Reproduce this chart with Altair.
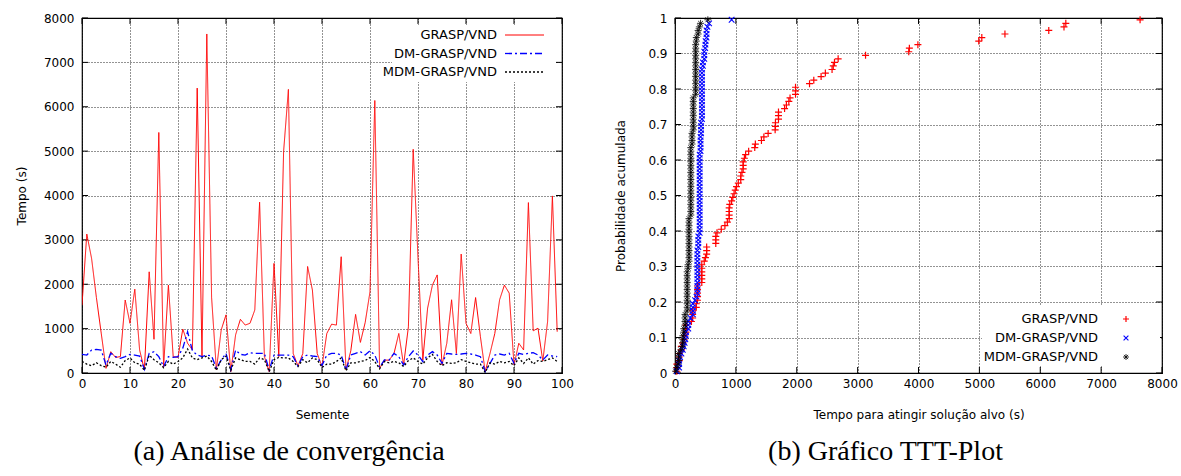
import altair as alt
import pandas as pd

# ---------------- data ----------------
seeds = list(range(100))

grasp_vnd = [1530, 3130, 2580, 1700, 900, 105, 480, 350, 370, 1645,
             1120, 1890, 520, 70, 2280, 760, 5420, 130, 1980, 370,
             350, 990, 670, 520, 6420, 370, 7640, 1700, 70, 970,
             1310, 30, 860, 1210, 1080, 1120, 1420, 3850, 370, 30,
             2470, 370, 4990, 6390, 440, 160, 440, 2400, 1870, 440,
             150, 890, 1100, 1080, 2620, 70, 500, 1320, 690, 1140,
             1830, 6140, 105, 290, 290, 440, 890, 180, 1040, 5040,
             2600, 290, 1460, 1980, 2210, 180, 670, 1650, 440, 2680,
             1120, 890, 1700, 820, 30, 440, 890, 1650, 1980, 1800,
             180, 670, 520, 3840, 950, 1010, 270, 1160, 3990, 930]

dm_grasp_vnd = [420, 405, 518, 533, 518, 180, 443, 368, 330, 368,
                420, 405, 383, 83, 443, 481, 368, 143, 368, 353,
                368, 560, 930, 500, 405, 368, 405, 383, 105, 293,
                443, 68, 518, 420, 405, 458, 443, 443, 443, 68,
                405, 405, 405, 405, 368, 158, 368, 405, 383, 368,
                170, 405, 443, 443, 405, 68, 405, 443, 481, 405,
                503, 405, 128, 293, 293, 443, 368, 180, 368, 496,
                405, 255, 405, 481, 405, 218, 443, 428, 420, 428,
                443, 428, 405, 368, 30, 218, 405, 428, 405, 443,
                218, 443, 420, 443, 458, 405, 293, 405, 383, 368]

mdm_grasp_vnd = [260, 200, 165, 230, 165, 130, 260, 200, 130, 280,
                 340, 230, 200, 60, 400, 300, 230, 120, 260, 200,
                 260, 340, 540, 340, 300, 340, 380, 260, 60, 300,
                 380, 60, 340, 300, 260, 260, 200, 340, 300, 30,
                 300, 350, 340, 340, 260, 145, 300, 230, 340, 300,
                 125, 200, 200, 260, 340, 50, 230, 230, 260, 280,
                 350, 260, 95, 260, 230, 260, 230, 145, 280, 340,
                 260, 200, 340, 420, 260, 165, 230, 215, 230, 300,
                 260, 230, 200, 200, 10, 230, 200, 260, 230, 260,
                 165, 340, 215, 340, 200, 280, 260, 300, 340, 260]

series = ["GRASP/VND", "DM-GRASP/VND", "MDM-GRASP/VND"]
colors = ["#ff0000", "#0000ff", "#000000"]
dashes = [[1, 0], [7, 3, 2, 3], [2, 2]]
shapes = ["M-1,0L1,0M0,-1L0,1",
          "M-0.8,-0.8L0.8,0.8M-0.8,0.8L0.8,-0.8",
          "M-1,0L1,0M0,-1L0,1M-0.7,-0.7L0.7,0.7M-0.7,0.7L0.7,-0.7"]
stroke_w = [1.2, 1.1, 0.8]

conv_x_ticks = [0, 10, 20, 30, 40, 50, 60, 70, 80, 90, 100]
conv_y_ticks = [0, 1000, 2000, 3000, 4000, 5000, 6000, 7000, 8000]
ttt_x_ticks = [0, 1000, 2000, 3000, 4000, 5000, 6000, 7000, 8000]
ttt_y_ticks = [0, 0.1, 0.2, 0.3, 0.4, 0.5, 0.6, 0.7, 0.8, 0.9, 1.0]

captions = ["(a) Análise de convergência", "(b) Gráfico TTT-Plot"]
axis_titles = ["Semente", "Tempo (s)", "Tempo para atingir solução alvo (s)", "Probabilidade acumulada"]

all_values = [grasp_vnd, dm_grasp_vnd, mdm_grasp_vnd]

# ---------------- tables ----------------
conv_df = pd.DataFrame({
    "Semente": seeds * 3,
    "Tempo": grasp_vnd + dm_grasp_vnd + mdm_grasp_vnd,
    "Algoritmo": sum([[s] * len(seeds) for s in series], []),
})

ttt_rows = []
for name, vals in zip(series, all_values):
    sv = sorted(vals)
    n = len(sv)
    for i, v in enumerate(sv):
        ttt_rows.append({"Algoritmo": name, "Tempo": v, "Prob": (i + 0.5) / n})
ttt_df = pd.DataFrame(ttt_rows)

FONT = "DejaVu Sans"
axis_common = dict(grid=True, gridColor="#000000", gridDash=[1, 2], gridOpacity=0.85,
                   gridWidth=1, ticks=False, domain=False, labelFlush=False,
                   labelOverlap=False,
                   labelFont=FONT, labelFontSize=12, labelColor="#000000",
                   titleFont=FONT, titleFontSize=12, titleFontWeight="normal",
                   titleColor="#000000")

CAPTION = dict(orient="bottom", anchor="middle", frame="group", dx=-33, offset=18,
               font="Liberation Serif", fontSize=28, fontWeight="normal", color="#000000")


def tick_table(xt, yt, xdom, ydom, xlen, ylen):
    rows = []
    for v in xt:
        rows.append({"x": v, "x2": v, "y": ydom[0], "y2": ydom[0] + ylen})
        rows.append({"x": v, "x2": v, "y": ydom[1] - ylen, "y2": ydom[1]})
    for v in yt:
        rows.append({"x": xdom[0], "x2": xdom[0] + xlen, "y": v, "y2": v})
        rows.append({"x": xdom[1] - xlen, "x2": xdom[1], "y": v, "y2": v})
    return pd.DataFrame(rows)


# ---------------- left panel ----------------
W1, H = 480, 355
cx = alt.Scale(domain=[0, 100], nice=False, zero=False)
cy = alt.Scale(domain=[0, 8000], nice=False)
cx_axis = alt.Axis(values=conv_x_ticks, title=axis_titles[0], labelPadding=5,
                   titlePadding=20, **axis_common)
cy_axis = alt.Axis(values=conv_y_ticks, format="d", title=axis_titles[1], labelPadding=8,
                   titlePadding=15, **axis_common)

left_layers = []
for i, name in enumerate(series):
    left_layers.append(
        alt.Chart(conv_df[conv_df["Algoritmo"] == name]).mark_line(
            color=colors[i], strokeDash=dashes[i], strokeWidth=1 if i == 0 else 1.3, clip=True
        ).encode(
            x=alt.X("Semente:Q", scale=cx, axis=cx_axis),
            y=alt.Y("Tempo:Q", scale=cy, axis=cy_axis),
        )
    )

ct = tick_table(conv_x_ticks, conv_y_ticks, [0, 100], [0, 8000], 100 * 6 / W1, 8000 * 6 / H)
left_ticks = alt.Chart(ct).mark_rule(color="#000000", strokeWidth=1).encode(
    x=alt.X("x:Q", scale=cx, axis=cx_axis), x2="x2:Q",
    y=alt.Y("y:Q", scale=cy, axis=cy_axis), y2="y2:Q")

left_box = alt.Chart(conv_df.head(1)).mark_rect(color="white").encode(
    x=alt.value(310), x2=alt.value(473), y=alt.value(7), y2=alt.value(64))

left_leg = []
for i, name in enumerate(series):
    yy = 17 + i * 18.5
    left_leg.append(alt.Chart(conv_df.head(1)).mark_text(
        align="right", baseline="middle", font=FONT, fontSize=13, color="#000000"
    ).encode(x=alt.value(415), y=alt.value(yy), text=alt.value(name)))
    left_leg.append(alt.Chart(conv_df.head(1)).mark_rule(
        color=colors[i], strokeDash=dashes[i], strokeWidth=1 if i == 0 else 1.3
    ).encode(x=alt.value(423), x2=alt.value(462), y=alt.value(yy)))

left = alt.layer(left_ticks, *left_layers, left_box, *left_leg).properties(
    width=W1, height=H, title=alt.TitleParams(captions[0], **CAPTION))

# ---------------- right panel ----------------
W2 = 487
tx = alt.Scale(domain=[0, 8000], nice=False)
ty = alt.Scale(domain=[0, 1], nice=False)
tx_axis = alt.Axis(values=ttt_x_ticks, format="d", title=axis_titles[2], labelPadding=5,
                   titlePadding=20, **axis_common)
ty_axis = alt.Axis(values=ttt_y_ticks, format="~g", title=axis_titles[3], labelPadding=8,
                   titlePadding=20, **axis_common)

tt = tick_table(ttt_x_ticks, ttt_y_ticks, [0, 8000], [0, 1], 8000 * 6 / W2, 6 / H)
right_ticks = alt.Chart(tt).mark_rule(color="#000000", strokeWidth=1).encode(
    x=alt.X("x:Q", scale=tx, axis=tx_axis), x2="x2:Q",
    y=alt.Y("y:Q", scale=ty, axis=ty_axis), y2="y2:Q")

pt_layers = []
for i, name in enumerate(series):
    pt_layers.append(
        alt.Chart(ttt_df[ttt_df["Algoritmo"] == name]).mark_point(
            filled=False, strokeWidth=stroke_w[i], size=49, opacity=1,
            shape=shapes[i], color=colors[i]
        ).encode(
            x=alt.X("Tempo:Q", scale=tx, axis=tx_axis),
            y=alt.Y("Prob:Q", scale=ty, axis=ty_axis),
        )
    )

right_box = alt.Chart(ttt_df.head(1)).mark_rect(color="white").encode(
    x=alt.value(307), x2=alt.value(485), y=alt.value(287), y2=alt.value(347))

right_leg = []
for i, name in enumerate(series):
    yy = 301 + i * 19
    right_leg.append(alt.Chart(ttt_df.head(1)).mark_text(
        align="right", baseline="middle", font=FONT, fontSize=13, color="#000000"
    ).encode(x=alt.value(423), y=alt.value(yy), text=alt.value(name)))
    right_leg.append(alt.Chart(ttt_df.head(1)).mark_point(
        filled=False, strokeWidth=stroke_w[i], size=36, shape=shapes[i], color=colors[i], opacity=1
    ).encode(x=alt.value(451), y=alt.value(yy)))

right = alt.layer(right_ticks, right_box, *pt_layers, *right_leg).properties(
    width=W2, height=H, title=alt.TitleParams(captions[1], **CAPTION))

chart = alt.hconcat(left, right, spacing=113, bounds="flush").properties(
    padding={"left": 14, "top": 11, "right": 2, "bottom": 2},
    background="white",
).configure_view(stroke="#000000", strokeWidth=1.2)

chart.save("out.html", embed_options={"renderer": "svg", "actions": False})
